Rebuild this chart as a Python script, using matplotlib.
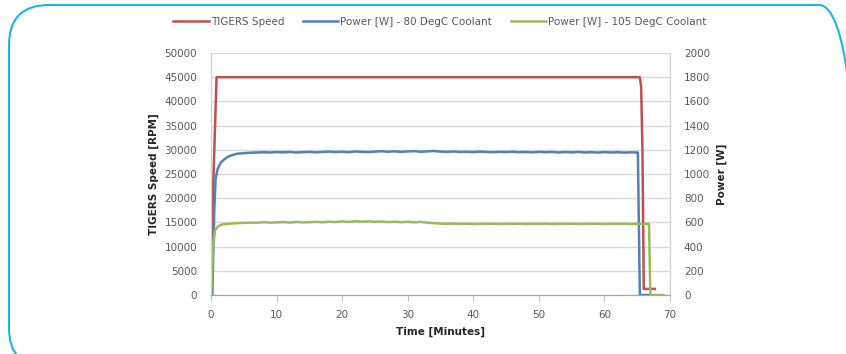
import numpy as np
import matplotlib.pyplot as plt
from matplotlib.patches import FancyBboxPatch
from matplotlib.transforms import IdentityTransform

plt.rcParams['font.family'] = ['DejaVu Sans']

# TIGERS speed [RPM]
speed_t = [0, 0.85, 65.4, 65.6, 65.8, 66.0, 67.7]
speed_v = [8000, 45000, 45000, 43000, 30000, 1250, 1250]

# Power [W] - 80 DegC coolant
p80_t = [0.2, 0.5, 0.7, 1.0, 1.5, 2.0, 2.5, 3.0, 3.5] + list(range(4, 66)) + [65.1, 65.4, 67.0]
p80_v = [0, 700, 960, 1040, 1095, 1120, 1140, 1152, 1160,
         1168, 1172, 1176, 1178, 1180, 1178, 1181, 1179, 1182, 1178,
         1180, 1183, 1179, 1182, 1185, 1181, 1184, 1180, 1186, 1183,
         1181, 1185, 1188, 1184, 1187, 1183, 1186, 1189, 1184, 1187,
         1190, 1185, 1183, 1186, 1182, 1184, 1181, 1185, 1182, 1180,
         1183, 1181, 1184, 1180, 1182, 1179, 1183, 1180, 1182, 1178,
         1181, 1179, 1182, 1178, 1180, 1177, 1181, 1178, 1180, 1177,
         1179, 1178,
         1178, 0, 0]

# Power [W] - 105 DegC coolant
p105_t = [0, 0.3, 0.6, 1.0, 1.5, 2.0, 2.5] + list(range(3, 67)) + [66.8, 67.0, 69.0]
p105_v = [0, 380, 530, 565, 580, 585, 588,
          590, 594, 596, 598, 597, 602, 598, 600, 603, 599,
          604, 600, 602, 605, 601, 606, 603, 608, 604, 610,
          606, 609, 605, 607, 603, 606, 602, 605, 601, 604,
          598, 593, 590, 588, 590, 587, 589, 586, 588, 587,
          589, 586, 588, 587, 589, 586, 588, 587, 589, 586,
          588, 587, 589, 586, 588, 587, 589, 586, 588, 587,
          589, 586, 588, 587,
          587, 0, 0]

red = '#C0504D'
blue = '#4F81BD'
green = '#9BBB59'
tick_c = '#595959'
lab_c = '#262626'

fig = plt.figure(figsize=(8.46, 3.54), dpi=100)
ax = fig.add_axes([211/846, 1-295/354, 459/846, 242/354])
ax2 = ax.twinx()

l1, = ax.plot(speed_t, speed_v, color=red, lw=1.8, label='TIGERS Speed')
l2, = ax2.plot(p80_t, p80_v, color=blue, lw=1.8, label='Power [W] - 80 DegC Coolant')
l3, = ax2.plot(p105_t, p105_v, color=green, lw=1.8, label='Power [W] - 105 DegC Coolant')

ax.set_xlim(0, 70)
ax.set_ylim(0, 50000)
ax2.set_ylim(0, 2000)
ax.set_xticks(range(0, 71, 10))
ax.set_yticks(range(0, 50001, 5000))
ax2.set_yticks(range(0, 2001, 200))

ax.grid(axis='y', color='#D9D9D9', lw=1)
ax.set_axisbelow(True)

for a in (ax, ax2):
    a.spines['top'].set_visible(False)
    a.spines['left'].set_color('#D0D0D0')
    a.spines['right'].set_color('#D0D0D0')
    a.spines['bottom'].set_color('#A6A6A6')
    a.tick_params(labelsize=7.5, colors=tick_c, length=0, pad=10)
ax.tick_params(axis='x', length=4, color='#BFBFBF', pad=7)

ax.set_xlabel('Time [Minutes]', fontsize=7.5, fontweight='bold', color=lab_c, labelpad=5)
ax.set_ylabel('TIGERS Speed [RPM]', fontsize=7.5, fontweight='bold', color=lab_c, labelpad=4)
ax2.set_ylabel('Power [W]', fontsize=7.5, fontweight='bold', color=lab_c, labelpad=5)

fig.legend(handles=[l1, l2, l3], loc='center', bbox_to_anchor=(0.52, 0.938), ncol=3,
           frameon=False, fontsize=7.5, handlelength=3.4, handletextpad=0.2,
           columnspacing=1.8, labelcolor=tick_c)

frame = FancyBboxPatch((9, -14), 850, 363, boxstyle='round,pad=0,rounding_size=40',
                       transform=IdentityTransform(), fill=False, ec='#1DB3EA', lw=1.5)
fig.add_artist(frame)

fig.savefig('out.png', dpi=100)
